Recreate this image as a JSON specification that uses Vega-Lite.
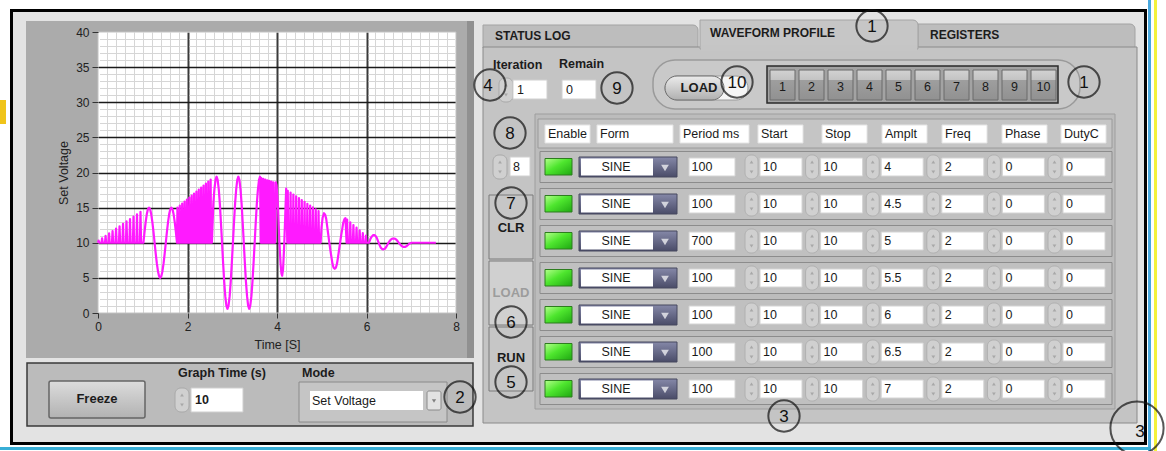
{
"$schema":"https://vega.github.io/schema/vega-lite/v6.json",
"width":1166,"height":451,"autosize":{"type":"none"},"padding":0,"background":"#ffffff",
"config":{"view":{"stroke":null},"axis":{"labelFont":"Liberation Sans","titleFont":"Liberation Sans"},"text":{"font":"Liberation Sans"}},
"resolve":{"scale":{"x":"independent","y":"independent","color":"independent","fill":"independent"},"axis":{"x":"independent","y":"independent"}},
"datasets":{
"wave":[{"t":0,"v":10},{"t":0.0135,"v":10.3},{"t":0.027,"v":10},{"t":0.078,"v":10},{"t":0.0915,"v":10.64},{"t":0.105,"v":10},{"t":0.156,"v":10},{"t":0.1695,"v":10.98},{"t":0.183,"v":10},{"t":0.234,"v":10},{"t":0.2475,"v":11.33},{"t":0.261,"v":10},{"t":0.312,"v":10},{"t":0.3255,"v":11.67},{"t":0.339,"v":10},{"t":0.39,"v":10},{"t":0.4035,"v":12.01},{"t":0.417,"v":10},{"t":0.468,"v":10},{"t":0.4815,"v":12.35},{"t":0.495,"v":10},{"t":0.546,"v":10},{"t":0.5595,"v":12.69},{"t":0.573,"v":10},{"t":0.624,"v":10},{"t":0.6375,"v":13.04},{"t":0.651,"v":10},{"t":0.702,"v":10},{"t":0.7155,"v":13.38},{"t":0.729,"v":10},{"t":0.78,"v":10},{"t":0.7935,"v":13.72},{"t":0.807,"v":10},{"t":0.858,"v":10},{"t":0.8715,"v":14.06},{"t":0.885,"v":10},{"t":0.936,"v":10},{"t":0.9495,"v":14.4},{"t":0.963,"v":10},{"t":1.015,"v":10},
{"t":1.04,"v":11.55},{"t":1.065,"v":12.94},{"t":1.09,"v":14.05},{"t":1.115,"v":14.76},{"t":1.14,"v":15},{"t":1.165,"v":14.76},{"t":1.19,"v":14.05},{"t":1.215,"v":12.94},{"t":1.24,"v":11.55},{"t":1.265,"v":10},{"t":1.29,"v":8.45},{"t":1.315,"v":7.06},{"t":1.34,"v":5.95},{"t":1.365,"v":5.24},{"t":1.39,"v":5},{"t":1.415,"v":5.24},{"t":1.44,"v":5.95},{"t":1.465,"v":7.06},{"t":1.49,"v":8.45},{"t":1.515,"v":10},{"t":1.54,"v":11.55},{"t":1.565,"v":12.94},{"t":1.59,"v":14.05},{"t":1.615,"v":14.76},{"t":1.64,"v":15},{"t":1.665,"v":14.76},{"t":1.69,"v":14.05},{"t":1.715,"v":12.94},{"t":1.74,"v":11.55},{"t":1.765,"v":10},
{"t":1.775,"v":15},{"t":1.785,"v":10},{"t":1.818,"v":10},{"t":1.828,"v":15.29},{"t":1.838,"v":10},{"t":1.871,"v":10},{"t":1.881,"v":15.57},{"t":1.891,"v":10},{"t":1.924,"v":10},{"t":1.934,"v":15.86},{"t":1.944,"v":10},{"t":1.977,"v":10},{"t":1.987,"v":16.14},{"t":1.997,"v":10},{"t":2.03,"v":10},{"t":2.04,"v":16.43},{"t":2.05,"v":10},{"t":2.083,"v":10},{"t":2.093,"v":16.71},{"t":2.103,"v":10},{"t":2.136,"v":10},{"t":2.146,"v":17},{"t":2.156,"v":10},{"t":2.189,"v":10},{"t":2.199,"v":17.29},{"t":2.209,"v":10},{"t":2.242,"v":10},{"t":2.252,"v":17.57},{"t":2.262,"v":10},{"t":2.295,"v":10},{"t":2.305,"v":17.86},{"t":2.315,"v":10},{"t":2.348,"v":10},{"t":2.358,"v":18.14},{"t":2.368,"v":10},{"t":2.401,"v":10},{"t":2.411,"v":18.43},{"t":2.421,"v":10},{"t":2.454,"v":10},{"t":2.464,"v":18.71},{"t":2.474,"v":10},{"t":2.507,"v":10},{"t":2.517,"v":19},{"t":2.527,"v":10},{"t":2.545,"v":10},
{"t":2.577,"v":15.53},{"t":2.601,"v":17.6},{"t":2.626,"v":18.94},{"t":2.65,"v":19.4},{"t":2.674,"v":18.94},{"t":2.699,"v":17.6},{"t":2.723,"v":15.53},{"t":2.747,"v":12.9},{"t":2.772,"v":10},{"t":2.796,"v":7.1},{"t":2.82,"v":4.47},{"t":2.844,"v":2.4},{"t":2.869,"v":1.06},{"t":2.893,"v":0.6},{"t":2.917,"v":1.06},{"t":2.942,"v":2.4},{"t":2.966,"v":4.47},{"t":2.99,"v":7.1},{"t":3.015,"v":10},{"t":3.039,"v":12.9},{"t":3.063,"v":15.53},{"t":3.088,"v":17.6},{"t":3.112,"v":18.94},{"t":3.136,"v":19.4},{"t":3.16,"v":18.94},{"t":3.185,"v":17.6},{"t":3.209,"v":15.53},{"t":3.233,"v":12.9},{"t":3.258,"v":10},{"t":3.282,"v":7.1},{"t":3.306,"v":4.47},{"t":3.331,"v":2.4},{"t":3.355,"v":1.06},{"t":3.379,"v":0.6},{"t":3.403,"v":1.06},{"t":3.428,"v":2.4},{"t":3.452,"v":4.47},{"t":3.476,"v":7.1},{"t":3.501,"v":10},{"t":3.525,"v":12.9},{"t":3.549,"v":15.53},{"t":3.574,"v":17.6},{"t":3.598,"v":18.94},{"t":3.622,"v":19.4},
{"t":3.64,"v":10},{"t":3.648,"v":19.2},{"t":3.656,"v":10},{"t":3.685,"v":10},{"t":3.693,"v":19.1},{"t":3.701,"v":10},{"t":3.73,"v":10},{"t":3.738,"v":19},{"t":3.746,"v":10},{"t":3.775,"v":10},{"t":3.783,"v":18.9},{"t":3.791,"v":10},{"t":3.82,"v":10},{"t":3.828,"v":18.8},{"t":3.836,"v":10},{"t":3.865,"v":10},{"t":3.873,"v":18.7},{"t":3.881,"v":10},{"t":3.91,"v":10},{"t":3.918,"v":18.6},{"t":3.926,"v":10},{"t":3.955,"v":10},{"t":3.972,"v":18.6},
{"t":3.99,"v":18.2},{"t":4.02,"v":15.5},{"t":4.05,"v":10.5},{"t":4.08,"v":7},{"t":4.1,"v":5.6},{"t":4.115,"v":5.3},{"t":4.135,"v":6.2},{"t":4.16,"v":9.5},{"t":4.185,"v":14},{"t":4.205,"v":17.7},
{"t":4.23,"v":10},{"t":4.241,"v":17.4},{"t":4.252,"v":10},{"t":4.2925,"v":10},{"t":4.3035,"v":17.14},{"t":4.3145,"v":10},{"t":4.355,"v":10},{"t":4.366,"v":16.87},{"t":4.377,"v":10},{"t":4.4175,"v":10},{"t":4.4285,"v":16.61},{"t":4.4395,"v":10},{"t":4.48,"v":10},{"t":4.491,"v":16.35},{"t":4.502,"v":10},{"t":4.5425,"v":10},{"t":4.5535,"v":16.08},{"t":4.5645,"v":10},{"t":4.605,"v":10},{"t":4.616,"v":15.82},{"t":4.627,"v":10},{"t":4.6675,"v":10},{"t":4.6785,"v":15.55},{"t":4.6895,"v":10},{"t":4.73,"v":10},{"t":4.741,"v":15.29},{"t":4.752,"v":10},{"t":4.7925,"v":10},{"t":4.8035,"v":15.03},{"t":4.8145,"v":10},{"t":4.855,"v":10},{"t":4.866,"v":14.76},{"t":4.877,"v":10},{"t":4.9175,"v":10},{"t":4.9285,"v":14.5},{"t":4.9395,"v":10},{"t":4.975,"v":10},
{"t":4.995,"v":12.2},{"t":5.02,"v":13.6},{"t":5.05,"v":14.2},{"t":5.075,"v":14},{"t":5.1,"v":13.4},{"t":5.12,"v":12.4},{"t":5.145,"v":11.2},{"t":5.17,"v":10},{"t":5.195,"v":8.85},{"t":5.22,"v":7.8},{"t":5.24,"v":7},{"t":5.265,"v":6.45},{"t":5.29,"v":6.3},{"t":5.315,"v":6.45},{"t":5.34,"v":7},{"t":5.36,"v":7.8},{"t":5.385,"v":8.9},{"t":5.41,"v":10},{"t":5.435,"v":11.1},{"t":5.46,"v":12.05},{"t":5.48,"v":12.85},{"t":5.505,"v":13.35},{"t":5.53,"v":13.5},
{"t":5.555,"v":10},{"t":5.5675,"v":13.3},{"t":5.58,"v":10},{"t":5.625,"v":10},{"t":5.6375,"v":12.92},{"t":5.65,"v":10},{"t":5.695,"v":10},{"t":5.7075,"v":12.53},{"t":5.72,"v":10},{"t":5.765,"v":10},{"t":5.7775,"v":12.15},{"t":5.79,"v":10},{"t":5.835,"v":10},{"t":5.8475,"v":11.77},{"t":5.86,"v":10},{"t":5.905,"v":10},{"t":5.9175,"v":11.38},{"t":5.93,"v":10},{"t":5.975,"v":10},{"t":5.9875,"v":11},{"t":6,"v":10},{"t":6.055,"v":10},
{"t":6.09,"v":10.6},{"t":6.12,"v":10.9},{"t":6.15,"v":11.08},{"t":6.17,"v":11.1},{"t":6.2,"v":11},{"t":6.23,"v":10.7},{"t":6.26,"v":10.2},{"t":6.29,"v":9.7},{"t":6.32,"v":9.3},{"t":6.35,"v":9.1},{"t":6.38,"v":9.06},{"t":6.41,"v":9.15},{"t":6.44,"v":9.4},{"t":6.47,"v":9.75},{"t":6.5,"v":10.1},{"t":6.53,"v":10.35},{"t":6.56,"v":10.52},{"t":6.59,"v":10.6},{"t":6.62,"v":10.6},{"t":6.65,"v":10.52},{"t":6.68,"v":10.35},{"t":6.71,"v":10.1},{"t":6.74,"v":9.85},{"t":6.77,"v":9.62},{"t":6.8,"v":9.47},{"t":6.83,"v":9.4},{"t":6.86,"v":9.4},{"t":6.89,"v":9.5},{"t":6.92,"v":9.65},{"t":6.95,"v":9.82},{"t":6.98,"v":9.95},{"t":7.01,"v":10},{"t":7.55,"v":10}],
"columns":[{"c":1,"name":"Enable"},{"c":2,"name":"Form"},{"c":3,"name":"Period ms"},{"c":4,"name":"Start"},{"c":5,"name":"Stop"},{"c":6,"name":"Amplt"},{"c":7,"name":"Freq"},{"c":8,"name":"Phase"},{"c":9,"name":"DutyC"}],
"profile":[{"row":1,"Form":"SINE","Period ms":100,"Start":10,"Stop":10,"Amplt":4,"Freq":2,"Phase":0,"DutyC":0},{"row":2,"Form":"SINE","Period ms":100,"Start":10,"Stop":10,"Amplt":4.5,"Freq":2,"Phase":0,"DutyC":0},{"row":3,"Form":"SINE","Period ms":700,"Start":10,"Stop":10,"Amplt":5,"Freq":2,"Phase":0,"DutyC":0},{"row":4,"Form":"SINE","Period ms":100,"Start":10,"Stop":10,"Amplt":5.5,"Freq":2,"Phase":0,"DutyC":0},{"row":5,"Form":"SINE","Period ms":100,"Start":10,"Stop":10,"Amplt":6,"Freq":2,"Phase":0,"DutyC":0},{"row":6,"Form":"SINE","Period ms":100,"Start":10,"Stop":10,"Amplt":6.5,"Freq":2,"Phase":0,"DutyC":0},{"row":7,"Form":"SINE","Period ms":100,"Start":10,"Stop":10,"Amplt":7,"Freq":2,"Phase":0,"DutyC":0}],
"buttons":[{"n":1},{"n":2},{"n":3},{"n":4},{"n":5},{"n":6},{"n":7},{"n":8},{"n":9},{"n":10}],
"notes":[{"id":1,"label":"1"},{"id":2,"label":"4"},{"id":3,"label":"9"},{"id":4,"label":"10"},{"id":5,"label":"1"},{"id":6,"label":"8"},{"id":7,"label":"7"},{"id":8,"label":"6"},{"id":9,"label":"5"},{"id":10,"label":"3"},{"id":11,"label":"2"}]
},
"layer":[
{"data":{"values":[{"part":"edge highlight"}]},"mark":{"type":"rect","fill":"#f0c419"},"encoding":{"x":{"datum":0,"type":"quantitative","scale":{"domain":[0,1],"range":[0,6]},"axis":null},"x2":{"datum":1},"y":{"datum":0,"type":"quantitative","scale":{"domain":[0,1],"range":[100,124]},"axis":null},"y2":{"datum":1}}},
{"data":{"values":[{"part":"right blue line"}]},"mark":{"type":"rect","fill":"#49a9df"},"encoding":{"x":{"datum":0,"type":"quantitative","scale":{"domain":[0,1],"range":[1148,1151]},"axis":null},"x2":{"datum":1},"y":{"datum":0,"type":"quantitative","scale":{"domain":[0,1],"range":[0,451]},"axis":null},"y2":{"datum":1}}},
{"data":{"values":[{"part":"right yellow line"}]},"mark":{"type":"rect","fill":"#f4f23c"},"encoding":{"x":{"datum":0,"type":"quantitative","scale":{"domain":[0,1],"range":[1154,1157]},"axis":null},"x2":{"datum":1},"y":{"datum":0,"type":"quantitative","scale":{"domain":[0,1],"range":[0,451]},"axis":null},"y2":{"datum":1}}},
{"data":{"values":[{"part":"bottom cyan line"}]},"mark":{"type":"rect","fill":"#38aed6"},"encoding":{"x":{"datum":0,"type":"quantitative","scale":{"domain":[0,1],"range":[0,1151]},"axis":null},"x2":{"datum":1},"y":{"datum":0,"type":"quantitative","scale":{"domain":[0,1],"range":[447,450]},"axis":null},"y2":{"datum":1}}},
{"data":{"values":[{"part":"window top"}]},"mark":{"type":"rect","fill":"#e3e3e3"},"encoding":{"x":{"datum":0,"type":"quantitative","scale":{"domain":[0,1],"range":[13,1144]},"axis":null},"x2":{"datum":1},"y":{"datum":0,"type":"quantitative","scale":{"domain":[0,1],"range":[11,21]},"axis":null},"y2":{"datum":1}}},
{"data":{"values":[{"part":"window left"}]},"mark":{"type":"rect","fill":"#e3e3e3"},"encoding":{"x":{"datum":0,"type":"quantitative","scale":{"domain":[0,1],"range":[13,26]},"axis":null},"x2":{"datum":1},"y":{"datum":0,"type":"quantitative","scale":{"domain":[0,1],"range":[21,443]},"axis":null},"y2":{"datum":1}}},
{"data":{"values":[{"part":"window right"}]},"mark":{"type":"rect","fill":"#e3e3e3"},"encoding":{"x":{"datum":0,"type":"quantitative","scale":{"domain":[0,1],"range":[473,1144]},"axis":null},"x2":{"datum":1},"y":{"datum":0,"type":"quantitative","scale":{"domain":[0,1],"range":[21,443]},"axis":null},"y2":{"datum":1}}},
{"data":{"values":[{"part":"window bottom"}]},"mark":{"type":"rect","fill":"#e3e3e3"},"encoding":{"x":{"datum":0,"type":"quantitative","scale":{"domain":[0,1],"range":[26,473]},"axis":null},"x2":{"datum":1},"y":{"datum":0,"type":"quantitative","scale":{"domain":[0,1],"range":[358,443]},"axis":null},"y2":{"datum":1}}},
{"data":{"values":[{"part":"window border"}]},"mark":{"type":"rect","fill":"transparent","stroke":"#000000","strokeWidth":3},"encoding":{"x":{"datum":0,"type":"quantitative","scale":{"domain":[0,1],"range":[11.5,1145.5]},"axis":null},"x2":{"datum":1},"y":{"datum":0,"type":"quantitative","scale":{"domain":[0,1],"range":[10.5,443.5]},"axis":null},"y2":{"datum":1}}},
{"data":{"values":[{"part":"graph frame left"}]},"mark":{"type":"rect","fill":"#ababab"},"encoding":{"x":{"datum":0,"type":"quantitative","scale":{"domain":[0,1],"range":[26,98]},"axis":null},"x2":{"datum":1},"y":{"datum":0,"type":"quantitative","scale":{"domain":[0,1],"range":[21,358]},"axis":null},"y2":{"datum":1}}},
{"data":{"values":[{"part":"graph frame right"}]},"mark":{"type":"rect","fill":"#ababab"},"encoding":{"x":{"datum":0,"type":"quantitative","scale":{"domain":[0,1],"range":[456,473]},"axis":null},"x2":{"datum":1},"y":{"datum":0,"type":"quantitative","scale":{"domain":[0,1],"range":[21,358]},"axis":null},"y2":{"datum":1}}},
{"data":{"values":[{"part":"graph frame top"}]},"mark":{"type":"rect","fill":"#ababab"},"encoding":{"x":{"datum":0,"type":"quantitative","scale":{"domain":[0,1],"range":[98,456]},"axis":null},"x2":{"datum":1},"y":{"datum":0,"type":"quantitative","scale":{"domain":[0,1],"range":[21,32]},"axis":null},"y2":{"datum":1}}},
{"data":{"values":[{"part":"graph frame bottom"}]},"mark":{"type":"rect","fill":"#ababab"},"encoding":{"x":{"datum":0,"type":"quantitative","scale":{"domain":[0,1],"range":[98,456]},"axis":null},"x2":{"datum":1},"y":{"datum":0,"type":"quantitative","scale":{"domain":[0,1],"range":[313,358]},"axis":null},"y2":{"datum":1}}},
{"data":{"values":[{"part":"graph frame bevel"}]},"mark":{"type":"rect","fill":"#909090"},"encoding":{"x":{"datum":0,"type":"quantitative","scale":{"domain":[0,1],"range":[467,474]},"axis":null},"x2":{"datum":1},"y":{"datum":0,"type":"quantitative","scale":{"domain":[0,1],"range":[21,358]},"axis":null},"y2":{"datum":1}}},
{"data":{"values":[{"part":"plot border"}]},"mark":{"type":"rect","fill":"transparent","stroke":"#c2c2c2","strokeWidth":1},"encoding":{"x":{"datum":0,"type":"quantitative","scale":{"domain":[0,1],"range":[98,456]},"axis":null},"x2":{"datum":1},"y":{"datum":0,"type":"quantitative","scale":{"domain":[0,1],"range":[32,313]},"axis":null},"y2":{"datum":1}}},
{"data":{"values":[{"t":0,"v":0}]},"mark":{"type":"point","opacity":0},"encoding":{"x":{"field":"t","type":"quantitative","scale":{"domain":[0,8],"range":[98,456]},"axis":{"orient":"top","grid":true,"values":[0.2,0.4,0.6,0.8,1,1.2,1.4,1.6,1.8,2.2,2.4,2.6,2.8,3,3.2,3.4,3.6,3.8,4.2,4.4,4.6,4.8,5,5.2,5.4,5.6,5.8,6.2,6.4,6.6,6.8,7,7.2,7.4,7.6,7.8],"gridColor":"#d6d6d6","gridWidth":1,"gridOpacity":1,"domain":false,"ticks":false,"labels":false,"title":null}},"y":{"field":"v","type":"quantitative","scale":{"domain":[0,40],"range":[313,32]},"axis":{"orient":"left","grid":true,"values":[1,2,3,4,6,7,8,9,11,12,13,14,16,17,18,19,21,22,23,24,26,27,28,29,31,32,33,34,36,37,38,39],"gridColor":"#d6d6d6","gridWidth":1,"gridOpacity":1,"gridDash":[86.5,3],"gridDashOffset":88,"domain":false,"ticks":false,"labels":false,"title":null}}}},
{"data":{"values":[{"t":0,"v":0}]},"mark":{"type":"point","opacity":0},"encoding":{"x":{"field":"t","type":"quantitative","scale":{"domain":[0,8],"range":[98,456]},"axis":{"orient":"top","grid":true,"values":[2,4,6],"gridColor":"#3a3a3a","gridWidth":2,"gridOpacity":1,"domain":false,"ticks":false,"labels":false,"title":null}},"y":{"field":"v","type":"quantitative","scale":{"domain":[0,40],"range":[313,32]},"axis":{"orient":"left","grid":true,"values":[5,10,15,20,25,30,35],"gridColor":"#1a1a1a","gridWidth":1.5,"gridOpacity":1,"domain":false,"ticks":false,"labels":false,"title":null}}}},
{"data":{"name":"wave"},"mark":{"type":"line","color":"#ff1aff","strokeWidth":2.2,"strokeJoin":"round"},"encoding":{"x":{"field":"t","type":"quantitative","scale":{"domain":[0,8],"range":[98,456]},"axis":{"orient":"bottom","offset":-138,"values":[0,2,4,6,8],"grid":false,"domain":false,"ticks":true,"tickSize":5,"tickColor":"#333333","tickWidth":1,"labelFontSize":12,"labelColor":"#222222","labelPadding":3,"labelFlush":false,"title":"Time [S]","titleFontSize":12.5,"titleFontWeight":"normal","titleColor":"#222222","titlePadding":6,"zindex":1}},"y":{"field":"v","type":"quantitative","scale":{"domain":[0,40],"range":[313,32]},"axis":{"orient":"left","offset":-98,"values":[0,5,10,15,20,25,30,35,40],"grid":false,"domain":false,"ticks":true,"tickSize":6,"tickColor":"#333333","tickWidth":1,"labelFontSize":12,"labelColor":"#222222","labelPadding":3,"title":"Set Voltage","titleFontSize":12.5,"titleFontWeight":"normal","titleColor":"#222222","titlePadding":5,"zindex":1}}}},
{"data":{"values":[{"part":"controls panel"}]},"mark":{"type":"rect","fill":"#bbbbbb","stroke":"#3a3a3a","strokeWidth":1.5},"encoding":{"x":{"datum":0,"type":"quantitative","scale":{"domain":[0,1],"range":[27,473]},"axis":null},"x2":{"datum":1},"y":{"datum":0,"type":"quantitative","scale":{"domain":[0,1],"range":[363,426]},"axis":null},"y2":{"datum":1}}},
{"data":{"values":[{"part":"freeze button"}]},"mark":{"type":"rect","fill":{"gradient":"linear","x1":0,"y1":0,"x2":0,"y2":1,"stops":[{"offset":0,"color":"#dcdcdc"},{"offset":1,"color":"#b2b2b2"}]},"stroke":"#666666","strokeWidth":1.5,"cornerRadius":2},"encoding":{"x":{"datum":0,"type":"quantitative","scale":{"domain":[0,1],"range":[49,145]},"axis":null},"x2":{"datum":1},"y":{"datum":0,"type":"quantitative","scale":{"domain":[0,1],"range":[381,418]},"axis":null},"y2":{"datum":1}}},
{"data":{"values":[{"part":"graph time box"}]},"mark":{"type":"rect","fill":"#ffffff","stroke":"#cfcfcf"},"encoding":{"x":{"datum":0,"type":"quantitative","scale":{"domain":[0,1],"range":[191,243]},"axis":null},"x2":{"datum":1},"y":{"datum":0,"type":"quantitative","scale":{"domain":[0,1],"range":[388,412]},"axis":null},"y2":{"datum":1}}},
{"data":{"values":[{"part":"mode outer"}]},"mark":{"type":"rect","fill":"#c5c5c5","stroke":"#8a8a8a"},"encoding":{"x":{"datum":0,"type":"quantitative","scale":{"domain":[0,1],"range":[299,447]},"axis":null},"x2":{"datum":1},"y":{"datum":0,"type":"quantitative","scale":{"domain":[0,1],"range":[382,422]},"axis":null},"y2":{"datum":1}}},
{"data":{"values":[{"part":"mode inner"}]},"mark":{"type":"rect","fill":"#ffffff"},"encoding":{"x":{"datum":0,"type":"quantitative","scale":{"domain":[0,1],"range":[310,423]},"axis":null},"x2":{"datum":1},"y":{"datum":0,"type":"quantitative","scale":{"domain":[0,1],"range":[391,410]},"axis":null},"y2":{"datum":1}}},
{"data":{"values":[{"part":"mode button"}]},"mark":{"type":"rect","fill":"#e2e2e2","stroke":"#8a8a8a","cornerRadius":2},"encoding":{"x":{"datum":0,"type":"quantitative","scale":{"domain":[0,1],"range":[427,441]},"axis":null},"x2":{"datum":1},"y":{"datum":0,"type":"quantitative","scale":{"domain":[0,1],"range":[391,410]},"axis":null},"y2":{"datum":1}}},
{"data":{"values":[{"part":"mode arrow"}]},"mark":{"type":"point","shape":"triangle-down","size":18,"filled":true,"fill":"#555555","strokeWidth":0},"encoding":{"x":{"datum":0,"type":"quantitative","scale":{"domain":[0,1],"range":[434,435]},"axis":null},"y":{"datum":0,"type":"quantitative","scale":{"domain":[0,1],"range":[401,402]},"axis":null}}},
{"data":{"values":[{"part":"tab status log"}]},"mark":{"type":"rect","fill":"#bdbdbd","stroke":"#a3a3a3","cornerRadiusTopRight":5},"encoding":{"x":{"datum":0,"type":"quantitative","scale":{"domain":[0,1],"range":[483,698]},"axis":null},"x2":{"datum":1},"y":{"datum":0,"type":"quantitative","scale":{"domain":[0,1],"range":[25,48]},"axis":null},"y2":{"datum":1}}},
{"data":{"values":[{"part":"tab registers"}]},"mark":{"type":"rect","fill":"#bdbdbd","stroke":"#a3a3a3","cornerRadiusTopRight":5},"encoding":{"x":{"datum":0,"type":"quantitative","scale":{"domain":[0,1],"range":[918,1135]},"axis":null},"x2":{"datum":1},"y":{"datum":0,"type":"quantitative","scale":{"domain":[0,1],"range":[24,48]},"axis":null},"y2":{"datum":1}}},
{"data":{"values":[{"part":"panel body"}]},"mark":{"type":"rect","fill":"#c4c4c4","stroke":"#8a8a8a"},"encoding":{"x":{"datum":0,"type":"quantitative","scale":{"domain":[0,1],"range":[483,1137]},"axis":null},"x2":{"datum":1},"y":{"datum":0,"type":"quantitative","scale":{"domain":[0,1],"range":[47,423]},"axis":null},"y2":{"datum":1}}},
{"data":{"values":[{"part":"tab waveform profile"}]},"mark":{"type":"rect","fill":"#c6c6c6","stroke":"#a3a3a3","cornerRadiusTopRight":5},"encoding":{"x":{"datum":0,"type":"quantitative","scale":{"domain":[0,1],"range":[700,918]},"axis":null},"x2":{"datum":1},"y":{"datum":0,"type":"quantitative","scale":{"domain":[0,1],"range":[20,49]},"axis":null},"y2":{"datum":1}}},
{"data":{"values":[{"part":"tab join"}]},"mark":{"type":"rect","fill":"#c5c5c5"},"encoding":{"x":{"datum":0,"type":"quantitative","scale":{"domain":[0,1],"range":[701,917]},"axis":null},"x2":{"datum":1},"y":{"datum":0,"type":"quantitative","scale":{"domain":[0,1],"range":[45,51]},"axis":null},"y2":{"datum":1}}},
{"data":{"values":[{"part":"table outer"}]},"mark":{"type":"rect","fill":"#bcbcbc","stroke":"#9e9e9e"},"encoding":{"x":{"datum":0,"type":"quantitative","scale":{"domain":[0,1],"range":[535,1115]},"axis":null},"x2":{"datum":1},"y":{"datum":0,"type":"quantitative","scale":{"domain":[0,1],"range":[114,409]},"axis":null},"y2":{"datum":1}}},
{"data":{"values":[{"part":"header bar"}]},"mark":{"type":"rect","fill":"#c5c5c5","stroke":"#9a9a9a"},"encoding":{"x":{"datum":0,"type":"quantitative","scale":{"domain":[0,1],"range":[538,1112]},"axis":null},"x2":{"datum":1},"y":{"datum":0,"type":"quantitative","scale":{"domain":[0,1],"range":[119,148]},"axis":null},"y2":{"datum":1}}},
{"data":{"name":"columns"},"transform":[{"filter":"datum.c != 2 && datum.c != 3"}],"mark":{"type":"rect","fill":"#ffffff","stroke":"#e4e4e4","x2Offset":45},"encoding":{"x":{"field":"c","type":"quantitative","scale":{"domain":[1,2,3,4,5,6,7,8,9],"range":[545,597,680,758,822,882,942,1002,1061]},"axis":null},"x2":{"field":"c"},"y":{"datum":0,"type":"quantitative","scale":{"domain":[0,1],"range":[125,143]},"axis":null},"y2":{"datum":1}}},
{"data":{"name":"columns"},"transform":[{"filter":"datum.c == 2"}],"mark":{"type":"rect","fill":"#ffffff","stroke":"#e4e4e4","x2Offset":76},"encoding":{"x":{"field":"c","type":"quantitative","scale":{"domain":[1,2,3,4,5,6,7,8,9],"range":[545,597,680,758,822,882,942,1002,1061]},"axis":null},"x2":{"field":"c"},"y":{"datum":0,"type":"quantitative","scale":{"domain":[0,1],"range":[125,143]},"axis":null},"y2":{"datum":1}}},
{"data":{"name":"columns"},"transform":[{"filter":"datum.c == 3"}],"mark":{"type":"rect","fill":"#ffffff","stroke":"#e4e4e4","x2Offset":69},"encoding":{"x":{"field":"c","type":"quantitative","scale":{"domain":[1,2,3,4,5,6,7,8,9],"range":[545,597,680,758,822,882,942,1002,1061]},"axis":null},"x2":{"field":"c"},"y":{"datum":0,"type":"quantitative","scale":{"domain":[0,1],"range":[125,143]},"axis":null},"y2":{"datum":1}}},
{"data":{"name":"columns"},"mark":{"type":"text","fontSize":12.5,"color":"#1a1a1a","align":"left","baseline":"middle","xOffset":3},"encoding":{"text":{"field":"name"},"x":{"field":"c","type":"quantitative","scale":{"domain":[1,2,3,4,5,6,7,8,9],"range":[545,597,680,758,822,882,942,1002,1061]},"axis":null},"y":{"datum":0.5,"type":"quantitative","scale":{"domain":[0,1],"range":[125,143]},"axis":null}}},
{"data":{"name":"profile"},"mark":{"type":"rect","fill":"#c0c0c0","stroke":"#8c8c8c","yOffset":-15.5,"y2Offset":15.5},"encoding":{"x":{"datum":0,"type":"quantitative","scale":{"domain":[0,1],"range":[540,1112]},"axis":null},"x2":{"datum":1},"y":{"field":"row","type":"quantitative","scale":{"domain":[1,7],"range":[167,389]},"axis":null},"y2":{"field":"row"}}},
{"data":{"name":"profile"},"mark":{"type":"rect","fill":{"gradient":"linear","x1":0,"y1":0,"x2":1,"y2":1,"stops":[{"offset":0,"color":"#b4ff8c"},{"offset":0.45,"color":"#4ee62e"},{"offset":1,"color":"#1fa812"}]},"stroke":"#2d7d1e","yOffset":-8.5,"y2Offset":8},"encoding":{"x":{"datum":0,"type":"quantitative","scale":{"domain":[0,1],"range":[545,572]},"axis":null},"x2":{"datum":1},"y":{"field":"row","type":"quantitative","scale":{"domain":[1,7],"range":[167,389]},"axis":null},"y2":{"field":"row"}}},
{"data":{"name":"profile"},"mark":{"type":"rect","fill":{"gradient":"linear","x1":0,"y1":0,"x2":0,"y2":1,"stops":[{"offset":0,"color":"#8588a8"},{"offset":1,"color":"#4a4c68"}]},"stroke":"#46485f","yOffset":-10,"y2Offset":10},"encoding":{"x":{"datum":0,"type":"quantitative","scale":{"domain":[0,1],"range":[579,677]},"axis":null},"x2":{"datum":1},"y":{"field":"row","type":"quantitative","scale":{"domain":[1,7],"range":[167,389]},"axis":null},"y2":{"field":"row"}}},
{"data":{"name":"profile"},"mark":{"type":"rect","fill":"#ffffff","yOffset":-8.5,"y2Offset":8.5},"encoding":{"x":{"datum":0,"type":"quantitative","scale":{"domain":[0,1],"range":[581,653]},"axis":null},"x2":{"datum":1},"y":{"field":"row","type":"quantitative","scale":{"domain":[1,7],"range":[167,389]},"axis":null},"y2":{"field":"row"}}},
{"data":{"name":"profile"},"mark":{"type":"text","fontSize":12.5,"color":"#1a1a1a","align":"center","baseline":"middle"},"encoding":{"text":{"field":"Form"},"x":{"datum":0,"type":"quantitative","scale":{"domain":[0,1],"range":[616,617]},"axis":null},"y":{"field":"row","type":"quantitative","scale":{"domain":[1,7],"range":[167,389]},"axis":null}}},
{"data":{"name":"profile"},"mark":{"type":"point","shape":"triangle-down","size":60,"filled":true,"fill":"#ffffff","strokeWidth":0,"yOffset":1},"encoding":{"x":{"datum":0,"type":"quantitative","scale":{"domain":[0,1],"range":[665,666]},"axis":null},"y":{"field":"row","type":"quantitative","scale":{"domain":[1,7],"range":[167,389]},"axis":null}}},
{"data":{"name":"profile"},"mark":{"type":"rect","fill":"#ffffff","stroke":"#d4d4d4","yOffset":-9,"y2Offset":9},"encoding":{"x":{"datum":0,"type":"quantitative","scale":{"domain":[0,1],"range":[689,735]},"axis":null},"x2":{"datum":1},"y":{"field":"row","type":"quantitative","scale":{"domain":[1,7],"range":[167,389]},"axis":null},"y2":{"field":"row"}}},
{"data":{"name":"profile"},"mark":{"type":"text","fontSize":12.5,"color":"#1a1a1a","align":"left","baseline":"middle"},"encoding":{"text":{"field":"Period ms","type":"nominal"},"x":{"datum":0,"type":"quantitative","scale":{"domain":[0,1],"range":[691.5,692.5]},"axis":null},"y":{"field":"row","type":"quantitative","scale":{"domain":[1,7],"range":[167,389]},"axis":null}}},
{"data":{"name":"profile"},"transform":[{"fold":["Start","Stop","Amplt","Freq","Phase","DutyC"],"as":["name","value"]},{"lookup":"name","from":{"data":{"name":"columns"},"key":"name","fields":["c"]}}],"mark":{"type":"rect","fill":"#d0d0d0","stroke":"#b0b0b0","cornerRadius":6,"x2Offset":13,"yOffset":-12,"y2Offset":12},"encoding":{"x":{"field":"c","type":"quantitative","scale":{"domain":[4,9],"range":[745,1048]},"axis":null},"x2":{"field":"c"},"y":{"field":"row","type":"quantitative","scale":{"domain":[1,7],"range":[167,389]},"axis":null},"y2":{"field":"row"}}},
{"data":{"name":"profile"},"transform":[{"fold":["Start","Stop","Amplt","Freq","Phase","DutyC"],"as":["name","value"]},{"lookup":"name","from":{"data":{"name":"columns"},"key":"name","fields":["c"]}}],"mark":{"type":"point","shape":"triangle-up","size":14,"filled":true,"fill":"#979797","strokeWidth":0,"xOffset":6.5,"yOffset":-5},"encoding":{"x":{"field":"c","type":"quantitative","scale":{"domain":[4,9],"range":[745,1048]},"axis":null},"y":{"field":"row","type":"quantitative","scale":{"domain":[1,7],"range":[167,389]},"axis":null}}},
{"data":{"name":"profile"},"transform":[{"fold":["Start","Stop","Amplt","Freq","Phase","DutyC"],"as":["name","value"]},{"lookup":"name","from":{"data":{"name":"columns"},"key":"name","fields":["c"]}}],"mark":{"type":"point","shape":"triangle-down","size":14,"filled":true,"fill":"#979797","strokeWidth":0,"xOffset":6.5,"yOffset":5},"encoding":{"x":{"field":"c","type":"quantitative","scale":{"domain":[4,9],"range":[745,1048]},"axis":null},"y":{"field":"row","type":"quantitative","scale":{"domain":[1,7],"range":[167,389]},"axis":null}}},
{"data":{"name":"profile"},"transform":[{"fold":["Start","Stop","Amplt","Freq","Phase","DutyC"],"as":["name","value"]},{"lookup":"name","from":{"data":{"name":"columns"},"key":"name","fields":["c"]}}],"mark":{"type":"rect","fill":"#ffffff","stroke":"#d4d4d4","x2Offset":42,"yOffset":-9,"y2Offset":9},"encoding":{"x":{"field":"c","type":"quantitative","scale":{"domain":[4,9],"range":[760,1063]},"axis":null},"x2":{"field":"c"},"y":{"field":"row","type":"quantitative","scale":{"domain":[1,7],"range":[167,389]},"axis":null},"y2":{"field":"row"}}},
{"data":{"name":"profile"},"transform":[{"fold":["Start","Stop","Amplt","Freq","Phase","DutyC"],"as":["name","value"]},{"lookup":"name","from":{"data":{"name":"columns"},"key":"name","fields":["c"]}}],"mark":{"type":"text","fontSize":12.5,"color":"#1a1a1a","align":"left","baseline":"middle"},"encoding":{"text":{"field":"value","type":"nominal"},"x":{"field":"c","type":"quantitative","scale":{"domain":[4,9],"range":[763,1066]},"axis":null},"y":{"field":"row","type":"quantitative","scale":{"domain":[1,7],"range":[167,389]},"axis":null}}},
{"data":{"values":[{"stepper":"graph time","id":1},{"stepper":"iteration","id":2},{"stepper":"row count","id":3}]},"mark":{"type":"rect","fill":"#d0d0d0","stroke":"#a8a8a8","cornerRadius":6,"x2Offset":14,"y2Offset":24},"encoding":{"x":{"field":"id","type":"quantitative","scale":{"domain":[1,2,3],"range":[175,499,493]},"axis":null},"x2":{"field":"id"},"y":{"field":"id","type":"quantitative","scale":{"domain":[1,2,3],"range":[388,78,155]},"axis":null},"y2":{"field":"id"}}},
{"data":{"values":[{"stepper":"graph time","id":1},{"stepper":"iteration","id":2},{"stepper":"row count","id":3}]},"mark":{"type":"point","shape":"triangle-up","size":14,"filled":true,"fill":"#979797","strokeWidth":0,"xOffset":7,"yOffset":7},"encoding":{"x":{"field":"id","type":"quantitative","scale":{"domain":[1,2,3],"range":[175,499,493]},"axis":null},"y":{"field":"id","type":"quantitative","scale":{"domain":[1,2,3],"range":[388,78,155]},"axis":null}}},
{"data":{"values":[{"stepper":"graph time","id":1},{"stepper":"iteration","id":2},{"stepper":"row count","id":3}]},"mark":{"type":"point","shape":"triangle-down","size":14,"filled":true,"fill":"#979797","strokeWidth":0,"xOffset":7,"yOffset":17},"encoding":{"x":{"field":"id","type":"quantitative","scale":{"domain":[1,2,3],"range":[175,499,493]},"axis":null},"y":{"field":"id","type":"quantitative","scale":{"domain":[1,2,3],"range":[388,78,155]},"axis":null}}},
{"data":{"values":[{"box":"Iteration","id":1},{"box":"Remain","id":2}]},"mark":{"type":"rect","fill":"#ffffff","stroke":"#d0d0d0","x2Offset":34},"encoding":{"x":{"field":"id","type":"quantitative","scale":{"domain":[1,2],"range":[513,562]},"axis":null},"x2":{"field":"id"},"y":{"datum":0,"type":"quantitative","scale":{"domain":[0,1],"range":[80,99]},"axis":null},"y2":{"datum":1}}},
{"data":{"values":[{"part":"row count box"}]},"mark":{"type":"rect","fill":"#ffffff","stroke":"#d0d0d0"},"encoding":{"x":{"datum":0,"type":"quantitative","scale":{"domain":[0,1],"range":[510,530]},"axis":null},"x2":{"datum":1},"y":{"datum":0,"type":"quantitative","scale":{"domain":[0,1],"range":[157,176]},"axis":null},"y2":{"datum":1}}},
{"data":{"values":[{"part":"load group"}]},"mark":{"type":"rect","fill":"#c9c9c9","stroke":"#9a9a9a","strokeWidth":1.5,"cornerRadius":22},"encoding":{"x":{"datum":0,"type":"quantitative","scale":{"domain":[0,1],"range":[653,1080]},"axis":null},"x2":{"datum":1},"y":{"datum":0,"type":"quantitative","scale":{"domain":[0,1],"range":[60,109]},"axis":null},"y2":{"datum":1}}},
{"data":{"values":[{"part":"load pill"}]},"mark":{"type":"rect","fill":"#f5f5f5","stroke":"#9a9a9a","cornerRadius":12},"encoding":{"x":{"datum":0,"type":"quantitative","scale":{"domain":[0,1],"range":[665,748]},"axis":null},"x2":{"datum":1},"y":{"datum":0,"type":"quantitative","scale":{"domain":[0,1],"range":[76,100]},"axis":null},"y2":{"datum":1}}},
{"data":{"values":[{"part":"load button"}]},"mark":{"type":"rect","fill":{"gradient":"linear","x1":0,"y1":0,"x2":0,"y2":1,"stops":[{"offset":0,"color":"#ececec"},{"offset":1,"color":"#b0b0b0"}]},"stroke":"#6e6e6e","cornerRadius":12},"encoding":{"x":{"datum":0,"type":"quantitative","scale":{"domain":[0,1],"range":[665,724]},"axis":null},"x2":{"datum":1},"y":{"datum":0,"type":"quantitative","scale":{"domain":[0,1],"range":[76,100]},"axis":null},"y2":{"datum":1}}},
{"data":{"values":[{"part":"button strip"}]},"mark":{"type":"rect","fill":"#a3a3a3","stroke":"#2a2a2a","strokeWidth":1.5},"encoding":{"x":{"datum":0,"type":"quantitative","scale":{"domain":[0,1],"range":[767,1058]},"axis":null},"x2":{"datum":1},"y":{"datum":0,"type":"quantitative","scale":{"domain":[0,1],"range":[66,103]},"axis":null},"y2":{"datum":1}}},
{"data":{"name":"buttons"},"mark":{"type":"rect","fill":{"gradient":"linear","x1":0,"y1":0,"x2":0,"y2":1,"stops":[{"offset":0,"color":"#d2d2d2"},{"offset":0.32,"color":"#c4c4c4"},{"offset":0.35,"color":"#9e9e9e"},{"offset":1,"color":"#919191"}]},"stroke":"#6a6a6a","x2Offset":25},"encoding":{"x":{"field":"n","type":"quantitative","scale":{"domain":[1,10],"range":[770,1031]},"axis":null},"x2":{"field":"n"},"y":{"datum":0,"type":"quantitative","scale":{"domain":[0,1],"range":[70,100]},"axis":null},"y2":{"datum":1}}},
{"data":{"name":"buttons"},"mark":{"type":"text","fontSize":12.5,"color":"#1a1a1a","align":"center","baseline":"middle"},"encoding":{"text":{"field":"n","type":"nominal"},"x":{"field":"n","type":"quantitative","scale":{"domain":[1,10],"range":[782.5,1043.5]},"axis":null},"y":{"datum":0,"type":"quantitative","scale":{"domain":[0,1],"range":[87,88]},"axis":null}}},
{"data":{"values":[{"btn":"CLR","k":1},{"btn":"LOAD","k":2},{"btn":"RUN","k":3}]},"mark":{"type":"rect","stroke":"#7a7a7a","y2Offset":64},"encoding":{"x":{"datum":0,"type":"quantitative","scale":{"domain":[0,1],"range":[489,533]},"axis":null},"x2":{"datum":1},"y":{"field":"k","type":"quantitative","scale":{"domain":[1,3],"range":[195,327]},"axis":null},"y2":{"field":"k"},"fill":{"field":"btn","type":"nominal","scale":{"domain":["CLR","LOAD","RUN"],"range":["#c6c6c6","#d0d0d0","#c6c6c6"]},"legend":null}}},
{"data":{"values":[{"btn":"CLR","k":1},{"btn":"LOAD","k":2},{"btn":"RUN","k":3}]},"mark":{"type":"text","fontSize":13,"fontWeight":"bold","align":"center","baseline":"middle"},"encoding":{"text":{"field":"btn"},"x":{"datum":0,"type":"quantitative","scale":{"domain":[0,1],"range":[511,512]},"axis":null},"y":{"field":"k","type":"quantitative","scale":{"domain":[1,3],"range":[228,358]},"axis":null},"color":{"field":"btn","type":"nominal","scale":{"domain":["CLR","LOAD","RUN"],"range":["#1a1a1a","#9c9c9c","#1a1a1a"]},"legend":null}}},
{"data":{"values":[{"label":"Graph Time (s)","id":1},{"label":"Mode","id":2},{"label":"Iteration","id":3},{"label":"Remain","id":4},{"label":"10","id":5}]},"mark":{"type":"text","fontSize":12.5,"fontWeight":"bold","color":"#1c1c1c","align":"left","baseline":"middle"},"encoding":{"text":{"field":"label"},"x":{"field":"id","type":"quantitative","scale":{"domain":[1,2,3,4,5],"range":[178,302,493,559,195]},"axis":null},"y":{"field":"id","type":"quantitative","scale":{"domain":[1,2,3,4,5],"range":[373,373,65,64,400]},"axis":null}}},
{"data":{"values":[{"label":"STATUS LOG","id":1},{"label":"WAVEFORM PROFILE","id":2},{"label":"REGISTERS","id":3}]},"mark":{"type":"text","fontSize":12,"fontWeight":"bold","color":"#1c1c1c","align":"left","baseline":"middle"},"encoding":{"text":{"field":"label"},"x":{"field":"id","type":"quantitative","scale":{"domain":[1,2,3],"range":[495,710,930]},"axis":null},"y":{"field":"id","type":"quantitative","scale":{"domain":[1,2,3],"range":[36,33,35]},"axis":null}}},
{"data":{"values":[{"label":"Set Voltage","id":1},{"label":"1","id":2},{"label":"0","id":3},{"label":"8","id":4}]},"mark":{"type":"text","fontSize":12.5,"color":"#1a1a1a","align":"left","baseline":"middle"},"encoding":{"text":{"field":"label"},"x":{"field":"id","type":"quantitative","scale":{"domain":[1,2,3,4],"range":[312,517,566,513]},"axis":null},"y":{"field":"id","type":"quantitative","scale":{"domain":[1,2,3,4],"range":[401,90,90,167]},"axis":null}}},
{"data":{"values":[{"label":"Freeze","id":1},{"label":"LOAD","id":2}]},"mark":{"type":"text","fontSize":13,"fontWeight":"bold","color":"#1c1c1c","align":"center","baseline":"middle"},"encoding":{"text":{"field":"label"},"x":{"field":"id","type":"quantitative","scale":{"domain":[1,2],"range":[97,699]},"axis":null},"y":{"field":"id","type":"quantitative","scale":{"domain":[1,2],"range":[399,88]},"axis":null}}},
{"data":{"name":"notes"},"mark":{"type":"point","shape":"circle","size":980,"filled":false,"stroke":"#111111","strokeWidth":2},"encoding":{"x":{"field":"id","type":"quantitative","scale":{"domain":[1,2,3,4,5,6,7,8,9,10,11],"range":[872,490,617,737,1084,510,511,511,511,784,460]},"axis":null},"y":{"field":"id","type":"quantitative","scale":{"domain":[1,2,3,4,5,6,7,8,9,10,11],"range":[26,85,88,82,82,133,203,322,382,416,397]},"axis":null}}},
{"data":{"name":"notes"},"mark":{"type":"text","fontSize":17,"color":"#111111","align":"center","baseline":"middle","dy":1},"encoding":{"text":{"field":"label"},"x":{"field":"id","type":"quantitative","scale":{"domain":[1,2,3,4,5,6,7,8,9,10,11],"range":[872,488,617,737,1084,510,511,511,511,784,460]},"axis":null},"y":{"field":"id","type":"quantitative","scale":{"domain":[1,2,3,4,5,6,7,8,9,10,11],"range":[26,85,88,82,82,133,203,322,382,416,397]},"axis":null}}},
{"data":{"values":[{"label":"3"}]},"mark":{"type":"point","shape":"circle","size":2830,"filled":false,"stroke":"#111111","strokeWidth":2},"encoding":{"x":{"datum":0,"type":"quantitative","scale":{"domain":[0,1],"range":[1137,1138]},"axis":null},"y":{"datum":0,"type":"quantitative","scale":{"domain":[0,1],"range":[428,429]},"axis":null}}},
{"data":{"values":[{"label":"3"}]},"mark":{"type":"text","fontSize":17,"color":"#111111","align":"center","baseline":"middle"},"encoding":{"text":{"field":"label"},"x":{"datum":0,"type":"quantitative","scale":{"domain":[0,1],"range":[1140,1141]},"axis":null},"y":{"datum":0,"type":"quantitative","scale":{"domain":[0,1],"range":[432,433]},"axis":null}}}
]
}
